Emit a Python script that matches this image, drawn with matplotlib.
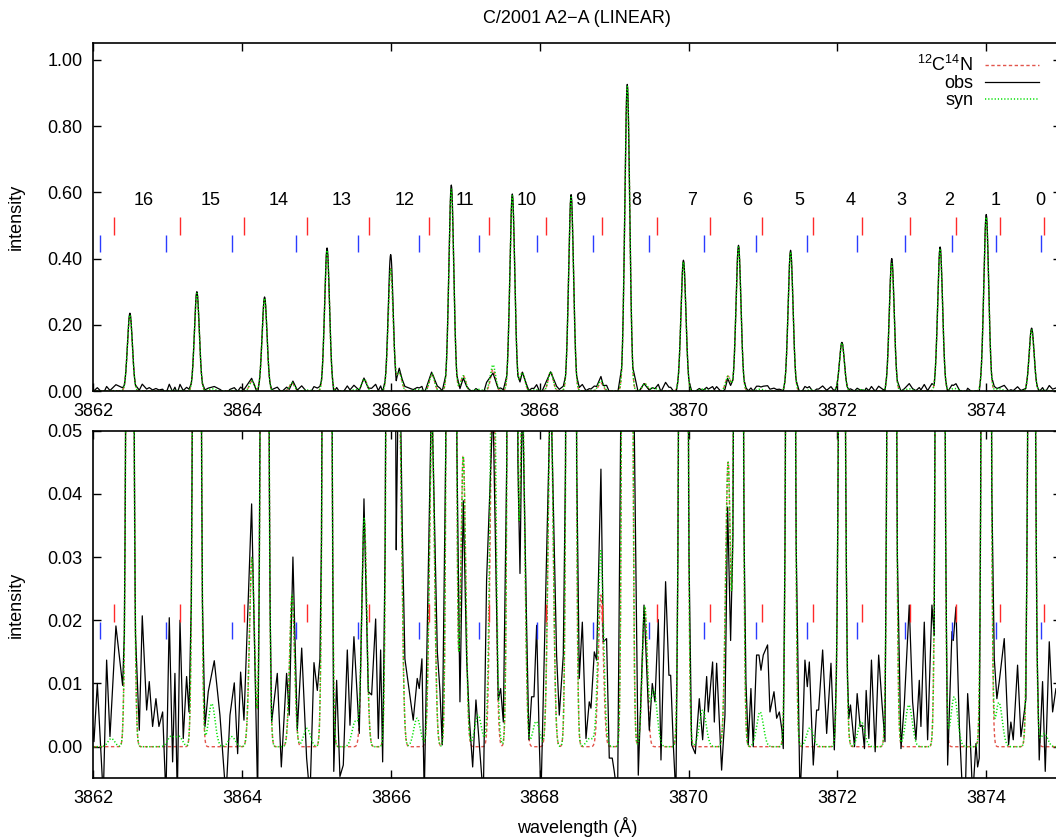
#!/usr/bin/env python

#
# CN violet band of comet C/2001 A2-A (LINEAR): observed vs synthetic spectrum
#

import numpy as np
import matplotlib
matplotlib.use('Agg')
import matplotlib.pyplot as plt
from matplotlib.ticker import FormatStrFormatter, MultipleLocator

# main 12C14N lines: N label, centre (A), peak intensity obs / syn
band_n = [16, 15, 14, 13, 12, 11, 10, 9, 8, 7, 6, 5, 4, 3, 2, 1, 0]
line_wave = [3862.49, 3863.39, 3864.30, 3865.14, 3865.995, 3866.81, 3867.63, 3868.42, 3869.175,
             3869.93, 3870.67, 3871.37, 3872.06, 3872.73, 3873.38, 3874.00, 3874.61]
obs_peak = [0.235, 0.300, 0.284, 0.432, 0.412, 0.622, 0.595, 0.593, 0.926,
            0.395, 0.440, 0.425, 0.147, 0.400, 0.435, 0.533, 0.190]
syn_peak = [0.230, 0.295, 0.280, 0.425, 0.370, 0.610, 0.590, 0.585, 0.920,
            0.390, 0.435, 0.420, 0.145, 0.385, 0.430, 0.525, 0.185]

# weak 12C14N lines (in both model curves)
weak_wave = [3864.13, 3864.67, 3865.64, 3866.11, 3866.55, 3866.97, 3867.37, 3867.765,
             3868.145, 3868.82, 3869.41, 3870.53]
weak_peak = [0.030, 0.024, 0.036, 0.055, 0.052, 0.046, 0.065, 0.055,
             0.058, 0.024, 0.022, 0.045]

# extra lines only in the full synthetic spectrum
extra_wave = [3862.24, 3863.04, 3863.15, 3863.59, 3863.86, 3864.87, 3865.52, 3866.35,
              3867.17, 3867.37, 3867.95, 3868.67, 3868.82, 3869.53, 3870.19, 3870.96,
              3871.63, 3872.32, 3872.96, 3873.57, 3874.17, 3874.78]
extra_peak = [0.0013, 0.0016, 0.0016, 0.0068, 0.0016, 0.0029, 0.0040, 0.0045,
              0.0050, 0.0140, 0.0040, 0.0013, 0.0070, 0.0090, 0.0058, 0.0055,
              0.0030, 0.0040, 0.0066, 0.0079, 0.0070, 0.0021]

# line markers
red_mark = [3862.28, 3863.16, 3864.02, 3864.87, 3865.70, 3866.51, 3867.31, 3868.08, 3868.83,
            3869.57, 3870.29, 3870.99, 3871.67, 3872.33, 3872.97, 3873.59, 3874.19, 3874.78]
blue_mark = [3862.09, 3862.98, 3863.86, 3864.72, 3865.56, 3866.38, 3867.18, 3867.96, 3868.72,
             3869.47, 3870.20, 3870.90, 3871.59, 3872.26, 3872.91, 3873.54, 3874.13, 3874.73]

noise_wave = [
  3861.990, 3862.007, 3862.052, 3862.132, 3862.177, 3862.222, 3862.302, 3862.392,
  3862.616, 3862.656, 3862.715, 3862.750, 3862.795, 3862.840, 3862.880, 3862.930,
  3862.974, 3863.019, 3863.064, 3863.095, 3863.127, 3863.163, 3863.207, 3863.252, 3863.284,
  3863.499, 3863.543, 3863.624, 3863.700, 3863.781, 3863.835, 3863.893, 3863.938,
  3863.978, 3864.023, 3864.126, 3864.207,
  3864.395, 3864.471, 3864.525, 3864.596, 3864.632, 3864.681, 3864.740, 3864.799,
  3864.865, 3864.910, 3864.964, 3865.009, 3865.044,
  3865.230, 3865.269, 3865.313, 3865.358, 3865.412, 3865.448, 3865.501, 3865.573,
  3865.636, 3865.694, 3865.739, 3865.793, 3865.829, 3865.860, 3865.887,
  3866.075, 3866.110, 3866.150, 3866.186, 3866.298, 3866.352, 3866.379, 3866.415,
  3866.446, 3866.545, 3866.622, 3866.657, 3866.688,
  3866.926, 3866.971, 3867.016, 3867.052, 3867.097, 3867.141, 3867.181, 3867.240,
  3867.284, 3867.370, 3867.441, 3867.473, 3867.509,
  3867.733, 3867.765, 3867.822, 3867.853, 3867.889, 3867.921, 3867.957, 3867.993,
  3868.015, 3868.145, 3868.225, 3868.261, 3868.315,
  3868.530, 3868.571, 3868.620, 3868.664, 3868.687, 3868.732, 3868.763, 3868.821,
  3868.853, 3868.897, 3868.933, 3868.973, 3869.000, 3869.045,
  3869.323, 3869.400, 3869.471, 3869.511, 3869.547, 3869.592, 3869.628, 3869.690,
  3869.735, 3869.758, 3869.793, 3869.829,
  3870.040, 3870.089, 3870.143, 3870.188, 3870.242, 3870.264, 3870.322, 3870.345,
  3870.376, 3870.443, 3870.488, 3870.524, 3870.564,
  3870.770, 3870.801, 3870.837, 3870.868, 3870.913, 3870.945, 3870.972, 3871.003,
  3871.061, 3871.093, 3871.147, 3871.183, 3871.219, 3871.254, 3871.272,
  3871.496, 3871.528, 3871.563, 3871.595, 3871.622, 3871.675, 3871.720, 3871.747,
  3871.801, 3871.855, 3871.913, 3871.958,
  3872.153, 3872.175, 3872.229, 3872.265, 3872.305, 3872.332, 3872.363, 3872.386,
  3872.422, 3872.457, 3872.507, 3872.554, 3872.599, 3872.639,
  3872.854, 3872.898, 3872.965, 3873.010, 3873.055, 3873.100, 3873.122, 3873.167,
  3873.212, 3873.270, 3873.301,
  3873.481, 3873.539, 3873.557, 3873.593, 3873.638, 3873.683, 3873.718, 3873.750,
  3873.781, 3873.817, 3873.862, 3873.884, 3873.906,
  3874.108, 3874.143, 3874.175, 3874.242, 3874.300, 3874.331, 3874.363, 3874.421,
  3874.466, 3874.511, 3874.533,
  3874.712, 3874.757, 3874.793, 3874.847, 3874.892, 3874.937, 3875.000, 3875.050]
noise_flux = [
  0.0030, 0.0008, 0.0100, -0.0080, 0.0137, 0.0016, 0.0191, 0.0097,
  0.0026, 0.0207, 0.0058, 0.0103, 0.0032, 0.0076, 0.0032, 0.0055,
  -0.0080, 0.0204, -0.0024, 0.0116, -0.0080, 0.0200, 0.0013, 0.0111, 0.0055,
  0.0032, 0.0087, 0.0136, 0.0050, -0.0080, 0.0050, 0.0101, -0.0011,
  0.0118, 0.0042, 0.0384, -0.0080,
  0.0039, 0.0116, -0.0032, 0.0116, 0.0050, 0.0300, 0.0026, 0.0156,
  -0.0018, -0.0080, 0.0133, 0.0089, 0.0139,
  -0.0039, 0.0105, -0.0047, -0.0029, 0.0153, 0.0034, 0.0174, 0.0021,
  0.0392, 0.0087, 0.0082, 0.0202, 0.0013, 0.0153, -0.0024,
  0.0376, 0.0690, 0.0350, 0.0139, 0.0042, 0.0108, 0.0092, 0.0139,
  -0.0080, 0.0570, 0.0150, 0.0089, 0.0003,
  0.0071, 0.0389, 0.0139, 0.0045, -0.0032, 0.0074, 0.0011, -0.0080,
  0.0263, 0.0540, 0.0074, 0.0092, 0.0039,
  0.0274, 0.0570, 0.0192, 0.0011, 0.0079, 0.0079, 0.0192, 0.0005,
  -0.0080, 0.0580, 0.0145, 0.0050, 0.0145,
  0.0108, 0.0197, 0.0013, 0.0071, 0.0061, 0.0150, 0.0137, 0.0439,
  0.0166, 0.0171, -0.0018, -0.0018, -0.0039, -0.0080,
  -0.0045, 0.0224, 0.0026, 0.0100, 0.0071, 0.0201, -0.0021, 0.0261,
  0.0113, 0.0113, 0.0005, -0.0080,
  0.0003, -0.0011, 0.0076, 0.0011, 0.0111, 0.0055, 0.0134, 0.0039,
  0.0132, -0.0037, 0.0050, 0.0379, 0.0168,
  0.0103, 0.0003, 0.0092, 0.0000, 0.0145, 0.0145, 0.0121, 0.0145,
  0.0161, 0.0055, 0.0087, 0.0045, 0.0055, 0.0026, -0.0003,
  -0.0080, 0.0003, 0.0137, 0.0095, 0.0134, -0.0029, 0.0058, 0.0058,
  0.0153, 0.0021, 0.0132, -0.0005,
  0.0045, 0.0066, 0.0000, 0.0084, 0.0032, 0.0034, -0.0003, 0.0089,
  0.0013, 0.0137, -0.0008, 0.0145, 0.0068, 0.0008,
  -0.0003, 0.0066, 0.0224, 0.0071, 0.0011, 0.0105, 0.0032, 0.0197,
  0.0011, 0.0224, 0.0176,
  -0.0029, 0.0182, 0.0168, 0.0221, 0.0034, -0.0080, -0.0080, 0.0084,
  0.0024, -0.0080, 0.0005, -0.0032, -0.0018,
  0.0139, 0.0076, 0.0103, 0.0171, 0.0003, 0.0039, 0.0011, 0.0129,
  0.0016, 0.0055, 0.0076,
  -0.0021, 0.0103, -0.0039, 0.0166, 0.0055, 0.0092, 0.0060, 0.0040]

SIGMA = 0.033        # line width of the CN lines (A)
SIGMA_EXTRA = 0.045
CORE = 0.075         # half width of the strong line cores in the observed curve

RED = '#e2554c'
GREEN = '#00e000'
FS = 13


def profile(wave, centres, peaks, sigma):
  flux = np.zeros_like(wave)
  for c, p in zip(centres, peaks):
    flux += p * np.exp(-0.5 * ((wave - c) / sigma) ** 2)
  return flux


def observed():
  core_w = np.concatenate([np.arange(c - CORE, c + CORE + 1e-9, 0.005) for c in line_wave])
  core_f = profile(core_w, line_wave, obs_peak, SIGMA)
  nw = np.array(noise_wave)
  nf = np.array(noise_flux)
  dist = np.min(np.abs(nw[:, None] - np.array(line_wave)[None, :]), axis=1)
  keep = dist > CORE
  w = np.concatenate([core_w, nw[keep]])
  f = np.concatenate([core_f, nf[keep]])
  order = np.argsort(w)
  return w[order], f[order]


def draw(ax, wave, cn, syn, obs_w, obs_f, red_span, blue_span):
  ax.plot(wave, cn, color=RED, lw=1.0, dashes=(2.4, 1.8), label=r'$^{12}$C$^{14}$N')
  ax.plot(obs_w, obs_f, color='black', lw=0.9, label='obs')
  ax.plot(wave, syn, color=GREEN, lw=1.1, dashes=(0.8, 1.3), label='syn')
  ax.vlines(red_mark, red_span[0], red_span[1], colors='#ff2a2a', lw=1.0)
  ax.vlines(blue_mark, blue_span[0], blue_span[1], colors='#2a3cff', lw=1.0)
  ax.set_xlim(3862, 3875)
  ax.xaxis.set_major_locator(MultipleLocator(2))
  ax.yaxis.set_major_formatter(FormatStrFormatter('%.2f'))
  ax.tick_params(direction='in', length=5.8, width=1.0, top=True, right=True,
                 labelsize=FS)
  ax.tick_params(axis='y', pad=8)
  ax.tick_params(axis='x', pad=8.5)
  for s in ax.spines.values():
    s.set_linewidth(1.2)
  ax.set_ylabel('intensity', fontsize=FS)
  ax.yaxis.set_label_coords(-0.071, 0.5)


def main():
  plt.rcParams['font.family'] = ['Liberation Sans', 'DejaVu Sans']
  plt.rcParams['mathtext.fontset'] = 'custom'
  plt.rcParams['mathtext.rm'] = 'Liberation Sans'
  plt.rcParams['mathtext.default'] = 'regular'

  wave = np.arange(3861.9, 3875.1, 0.004)
  cn = profile(wave, line_wave, syn_peak, SIGMA) + profile(wave, weak_wave, weak_peak, SIGMA)
  syn = cn + profile(wave, extra_wave, extra_peak, SIGMA_EXTRA)
  obs_w, obs_f = observed()

  fig = plt.figure(figsize=(10.56, 8.38), dpi=100)
  ax1 = fig.add_axes([0.0885, 0.5334, 0.9159, 0.4149])
  ax2 = fig.add_axes([0.0885, 0.0712, 0.9159, 0.4150])

  draw(ax1, wave, cn, syn, obs_w, obs_f, (0.470, 0.525), (0.419, 0.470))
  ax1.set_ylim(0, 1.05)
  ax1.yaxis.set_major_locator(MultipleLocator(0.2))
  for n, c in zip(band_n, line_wave):
    ax1.text(c + 0.055, 0.575, str(n), ha='left', va='center', fontsize=FS)
  ax1.legend(loc='upper right', bbox_to_anchor=(0.978, 0.966), frameon=False,
             markerfirst=False, handlelength=3.0, handletextpad=0.65,
             labelspacing=0.0, borderpad=0, borderaxespad=0, fontsize=FS)

  draw(ax2, wave, cn, syn, obs_w, obs_f, (0.0197, 0.0225), (0.0170, 0.0197))
  ax2.set_ylim(-0.005, 0.05)
  ax2.yaxis.set_major_locator(MultipleLocator(0.01))
  ax2.set_xlabel(u'wavelength (\u00c5)', fontsize=FS)
  ax2.xaxis.set_label_coords(0.5, -0.112)

  # title centred over the plot area
  fig.text(0.5467, 0.9785, u'C/2001 A2\u2212A (LINEAR)', ha='center', va='center', fontsize=FS)

  fig.savefig('out.png', dpi=100)


if __name__ == "__main__":
  main()
